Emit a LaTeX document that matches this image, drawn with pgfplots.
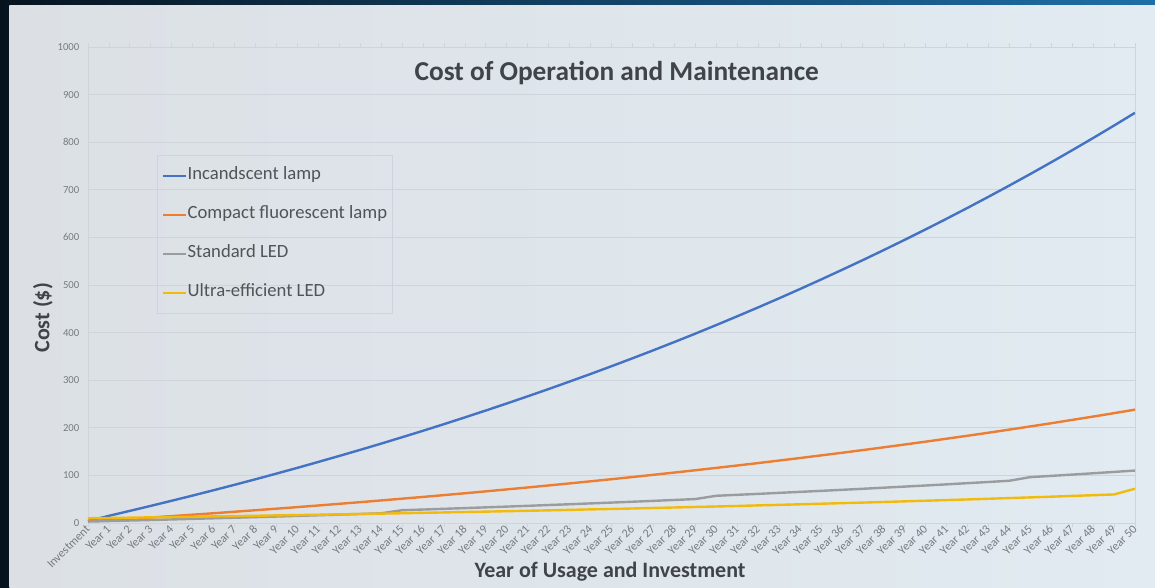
\documentclass[border=0pt]{standalone}
\usepackage{fontspec}
\setmainfont{Carlito}
\usepackage{pgfplots}
\usepackage{pgfplotstable}
\pgfplotsset{compat=1.18}
\definecolor{bgdark}{HTML}{06131F}
\definecolor{bgblue}{HTML}{1E6FA8}
\definecolor{panelL}{HTML}{DCE0E5}
\definecolor{panelR}{HTML}{E1EBF1}
\definecolor{gridc}{HTML}{CDD4DB}
\definecolor{tickc}{HTML}{767B81}
\definecolor{labc}{HTML}{404448}
\definecolor{legc}{HTML}{505458}
\definecolor{cInc}{HTML}{4472C4}
\definecolor{cCfl}{HTML}{ED7D31}
\definecolor{cLed}{HTML}{9A9C9E}
\definecolor{cUled}{HTML}{F2BA0A}

\pgfplotstableread{
n inc cfl led uled
0 4 5 3 10
1 15.1 5.8 4.1 10.6
2 25.5 8.6 5.2 11.2
3 36.0 11.5 6.3 11.9
4 46.8 14.5 7.5 12.5
5 57.7 17.5 8.7 13.2
6 68.9 20.5 9.9 13.9
7 80.3 23.7 11.1 14.5
8 91.9 26.9 12.4 15.2
9 103.8 30.1 13.6 16.0
10 115.9 33.4 14.9 16.7
11 128.3 36.8 16.3 17.4
12 140.9 40.3 17.6 18.2
13 153.7 43.8 19.0 18.9
14 166.8 47.4 20.4 19.7
15 180.2 51.1 26.9 20.5
16 193.8 54.8 28.3 21.4
17 207.7 58.6 29.8 22.2
18 221.9 62.5 31.3 23.1
19 236.4 66.5 32.9 23.9
20 251.1 70.6 34.5 24.8
21 266.2 74.7 36.1 25.7
22 281.5 78.9 37.8 26.6
23 297.2 83.2 39.4 27.6
24 313.1 87.6 41.2 28.6
25 329.4 92.0 42.9 29.5
26 346.0 96.6 44.7 30.5
27 362.9 101.3 46.5 31.6
28 380.2 106.0 48.4 32.6
29 397.8 110.8 50.3 33.7
30 415.8 115.8 57.2 34.7
31 434.2 120.8 59.2 35.8
32 452.9 125.9 61.2 37.0
33 472.0 131.2 63.3 38.1
34 491.5 136.5 65.4 39.3
35 511.4 142.0 67.5 40.5
36 531.7 147.5 69.7 41.7
37 552.3 153.2 71.9 42.9
38 573.4 159.0 74.2 44.2
39 594.9 164.9 76.5 45.5
40 616.8 170.9 78.8 46.8
41 639.2 177.1 81.2 48.2
42 662.0 183.3 83.7 49.5
43 685.3 189.7 86.2 50.9
44 709.0 196.2 88.8 52.4
45 733.2 202.9 96.4 53.8
46 757.9 209.6 99.0 55.3
47 783.1 216.6 101.7 56.9
48 808.8 223.6 104.5 58.4
49 835.0 230.8 107.3 60.0
50 861.8 238.1 110.2 72.0
}\datatable

\begin{document}
\begin{tikzpicture}
\useasboundingbox (0,0) rectangle (866.25pt,440.25pt);
\shade[left color=bgdark, right color=bgblue] (0,0) rectangle (866.25pt,440.25pt);
\shade[left color=panelL, right color=panelR] (7pt,0) rectangle (866.25pt,435.75pt);
\begin{axis}[
  at={(66pt,48pt)}, anchor=south west,
  scale only axis, width=785.25pt, height=357pt,
  xmin=0, xmax=50, ymin=0, ymax=1000,
  xtick={0,...,50},
  xticklabels={Investment,Year 1,Year 2,Year 3,Year 4,Year 5,Year 6,Year 7,Year 8,Year 9,Year 10,Year 11,Year 12,Year 13,Year 14,Year 15,Year 16,Year 17,Year 18,Year 19,Year 20,Year 21,Year 22,Year 23,Year 24,Year 25,Year 26,Year 27,Year 28,Year 29,Year 30,Year 31,Year 32,Year 33,Year 34,Year 35,Year 36,Year 37,Year 38,Year 39,Year 40,Year 41,Year 42,Year 43,Year 44,Year 45,Year 46,Year 47,Year 48,Year 49,Year 50},
  ytick={0,100,...,1000},
  /pgf/number format/assume math mode=true,
  /pgf/number format/1000 sep={},
  axis line style={draw=gridc},
  ymajorgrids, grid style={draw=gridc, line width=0.6pt},
  xtick align=outside, major tick length=3pt,
  xtick style={draw=gridc, line width=0.6pt},
  ytick style={draw=none},
  xticklabel style={font=\fontsize{9}{10}\selectfont, text=tickc, rotate=45, anchor=east, inner sep=1pt, xshift=1pt},
  yticklabel style={font=\fontsize{8}{9}\selectfont, text=tickc, xshift=-3pt},
  title={Cost of Operation and Maintenance},
  title style={at={(axis description cs:0.505,0.928)}, anchor=center, font=\fontsize{20.5}{22}\selectfont\bfseries, text=labc},
  ylabel={Cost (\$)},
  ylabel style={at={(axis description cs:-0.043,0.431)}, anchor=center, font=\fontsize{16.5}{18}\selectfont\bfseries, text=labc, draw=gridc!70, inner sep=3pt},
  xlabel={Year of Usage and Investment},
  xlabel style={at={(axis description cs:0.4986,-0.103)}, anchor=center, font=\fontsize{16.5}{18}\selectfont\bfseries, text=labc},
  legend cell align=left,
  legend style={at={(axis description cs:0.0659,0.773)}, anchor=north west,
    draw=gridc, fill=none, font=\fontsize{14}{16}\selectfont, text=legc,
    row sep=17.25pt, inner xsep=3.5pt, inner ysep=9.5pt,
    nodes={inner sep=0pt, text height=9pt, text depth=3pt},
    /tikz/every odd column/.append style={column sep=0.5pt}},
  legend image code/.code={\draw[#1] (0pt,0pt) -- (17pt,0pt);},
  every axis plot/.append style={line width=1.8pt, line join=round},
]
\addplot[cInc] table[x=n, y=inc] {\datatable};
\addlegendentry{Incandscent lamp}
\addplot[cCfl] table[x=n, y=cfl] {\datatable};
\addlegendentry{Compact fluorescent lamp}
\addplot[cLed] table[x=n, y=led] {\datatable};
\addlegendentry{Standard LED}
\addplot[cUled] table[x=n, y=uled] {\datatable};
\addlegendentry{Ultra-efficient LED}
\end{axis}
\end{tikzpicture}
\end{document}
